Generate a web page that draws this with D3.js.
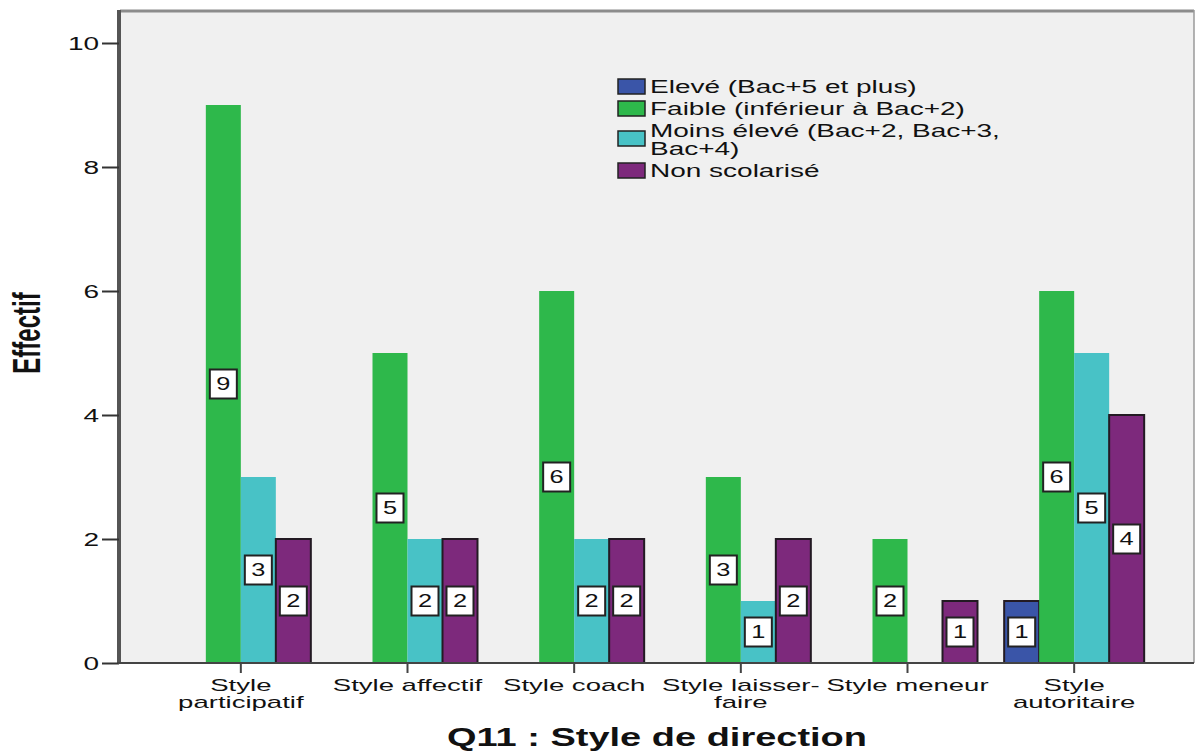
<!DOCTYPE html>
<html>
<head>
<meta charset="utf-8">
<script src="https://cdn.jsdelivr.net/npm/d3@7"></script>
<style>
  body { margin: 0; background: #ffffff; }
  text { font-family: "Liberation Sans", Arial, sans-serif; fill: #111; }
</style>
</head>
<body>
<svg id="chart" width="1195" height="753"></svg>
<script>
// Effectifs par style de direction et niveau d'études
const categories = ["Style participatif", "Style affectif", "Style coach", "Style laisser-faire", "Style meneur", "Style autoritaire"];
const categoryLines = [["Style", "participatif"], ["Style affectif"], ["Style coach"], ["Style laisser-", "faire"], ["Style meneur"], ["Style", "autoritaire"]];
const seriesNames = ["Elevé (Bac+5 et plus)", "Faible (inférieur à Bac+2)", "Moins élevé (Bac+2, Bac+3, Bac+4)", "Non scolarisé"];
const seriesLines = [["Elevé (Bac+5 et plus)"], ["Faible (inférieur à Bac+2)"], ["Moins élevé (Bac+2, Bac+3,", "Bac+4)"], ["Non scolarisé"]];
const eleve = [0, 0, 0, 0, 0, 1];
const faible = [9, 5, 6, 3, 2, 6];
const moinsEleve = [3, 2, 2, 1, 0, 5];
const nonScolarise = [2, 2, 2, 2, 1, 4];
const yTicks = [0, 2, 4, 6, 8, 10];
const yTitle = "Effectif";
const xTitle = "Q11 : Style de direction";

const seriesValues = [eleve, faible, moinsEleve, nonScolarise];
const seriesColors = ["#3a55a8", "#2eb84b", "#48c2c6", "#7d297c"];
const seriesOutlined = [true, false, false, true];

const svg = d3.select("#chart");
const plot = { left: 120, right: 1194, top: 12, bottom: 663 };
const SX = 1.6; // horizontal glyph stretch used throughout the chart's text

const x = d3.scaleBand().domain(categories).range([157.5, 1157.5])
  .paddingInner(0.16).paddingOuter(0.08);
const xs = d3.scaleBand().domain(seriesNames).range([0, x.bandwidth()]);
const y = d3.scaleLinear().domain([0, 10]).range([plot.bottom, 43]);

// plot background and frame
svg.append("rect")
  .attr("x", plot.left).attr("y", plot.top)
  .attr("width", plot.right - plot.left).attr("height", plot.bottom - plot.top)
  .attr("fill", "#f0f0f0");
svg.append("line").attr("x1", plot.left).attr("x2", plot.right)
  .attr("y1", plot.top - 1).attr("y2", plot.top - 1)
  .attr("stroke", "#8c8c8c").attr("stroke-width", 3);
svg.append("line").attr("x1", plot.right).attr("x2", plot.right)
  .attr("y1", plot.top - 2).attr("y2", plot.bottom)
  .attr("stroke", "#9a9a9a").attr("stroke-width", 1.5);

// bars
const bars = [];
seriesValues.forEach((vals, s) => {
  vals.forEach((v, i) => {
    if (v > 0) bars.push({ s, cat: categories[i], v });
  });
});

svg.append("g").selectAll("rect").data(bars).join("rect")
  .attr("x", d => x(d.cat) + xs(seriesNames[d.s]))
  .attr("y", d => y(d.v))
  .attr("width", xs.bandwidth())
  .attr("height", d => y(0) - y(d.v))
  .attr("fill", d => seriesColors[d.s])
  .attr("stroke", d => seriesOutlined[d.s] ? "#231a23" : "none")
  .attr("stroke-width", 2);

// value boxes
const boxW = 27, boxH = 29;
const labels = svg.append("g").selectAll("g").data(bars).join("g")
  .attr("transform", d => `translate(${x(d.cat) + xs(seriesNames[d.s]) + xs.bandwidth() / 2},${y(d.v / 2)})`);
labels.append("rect")
  .attr("x", -boxW / 2).attr("y", -boxH / 2)
  .attr("width", boxW).attr("height", boxH)
  .attr("fill", "#ffffff").attr("stroke", "#222").attr("stroke-width", 2);
labels.append("text")
  .attr("text-anchor", "middle").attr("dy", "0.36em")
  .attr("transform", "scale(1.45,1)")
  .style("font-size", "17.5px")
  .text(d => d.v);

// y axis
const yAxis = svg.append("g")
  .attr("transform", `translate(${plot.left - 1},0)`)
  .call(d3.axisLeft(y).tickValues(yTicks).tickSize(17).tickPadding(0).tickFormat(d3.format("d")));
yAxis.select(".domain").attr("stroke", "#555").attr("stroke-width", 4)
  .attr("d", `M0,${plot.top - 2}V${plot.bottom}`);
yAxis.selectAll(".tick line").attr("stroke", "#333").attr("stroke-width", 2);
yAxis.selectAll(".tick text")
  .attr("x", null).attr("dy", null)
  .attr("transform", `translate(-20,6) scale(${SX},1)`)
  .attr("fill", "#111")
  .style("font-size", "17.5px");

// x axis
const xAxis = svg.append("g")
  .attr("transform", `translate(0,${plot.bottom})`)
  .call(d3.axisBottom(x).tickSize(10).tickFormat(""));
xAxis.select(".domain").attr("stroke", "#444").attr("stroke-width", 2)
  .attr("d", `M${plot.left - 2},0H${plot.right}`);
xAxis.selectAll(".tick line").attr("stroke", "#444").attr("stroke-width", 2);
xAxis.selectAll(".tick text").remove();
xAxis.selectAll(".tick").each(function (d, i) {
  const t = d3.select(this).append("text")
    .attr("text-anchor", "middle")
    .attr("transform", `translate(0,28) scale(1.62,1)`)
    .style("font-size", "17px");
  categoryLines[i].forEach((line, k) => {
    t.append("tspan").attr("x", 0).attr("y", k * 17.5).text(line);
  });
});

// axis titles
svg.append("text")
  .attr("text-anchor", "middle")
  .attr("transform", "translate(40,333) rotate(-90) scale(1.0,1.6)")
  .style("font-size", "24px").style("font-weight", "bold")
  .text(yTitle);
svg.append("text")
  .attr("text-anchor", "middle")
  .attr("transform", "translate(657,746) scale(1.49,1)")
  .style("font-size", "25.5px").style("font-weight", "bold")
  .text(xTitle);

// legend
const legend = svg.append("g").attr("transform", "translate(618,76)");
let ly = 0;
seriesNames.forEach((name, s) => {
  const lines = seriesLines[s];
  const h = 4 + lines.length * 18;
  const g = legend.append("g").attr("transform", `translate(0,${ly})`);
  g.append("rect")
    .attr("x", 0).attr("y", h / 2 - 8 + (lines.length > 1 ? -1 : 0))
    .attr("width", 27).attr("height", 15)
    .attr("fill", seriesColors[s]).attr("stroke", "#222").attr("stroke-width", 1.5);
  const t = g.append("text")
    .attr("transform", `translate(32,0) scale(${SX},1)`)
    .style("font-size", "17.5px");
  lines.forEach((line, k) => {
    t.append("tspan").attr("x", 0).attr("y", 17 + k * 18).text(line);
  });
  ly += h;
});
</script>
</body>
</html>
